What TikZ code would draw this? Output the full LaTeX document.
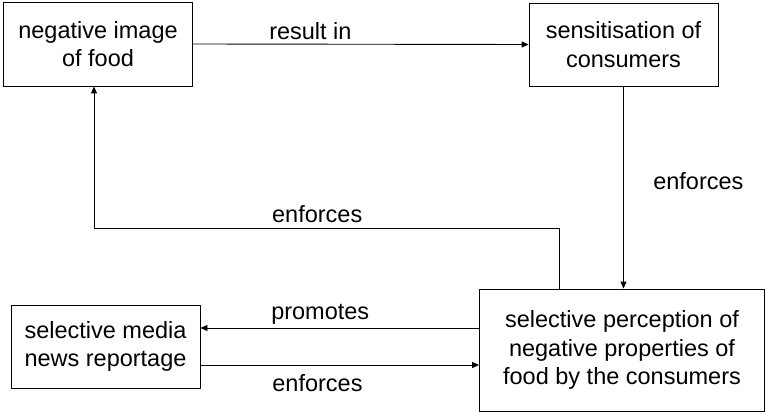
\documentclass[tikz,border=0pt]{standalone}
\usepackage{fontspec}
\setmainfont{Liberation Sans}
\usetikzlibrary{positioning, arrows.meta}

\tikzset{
  box/.style={draw, line width=0.9pt, align=center, inner sep=0pt, font=\fontsize{23.5}{28.5}\selectfont},
  link/.style={line width=0.9pt, -{Triangle[length=7pt,width=6pt]}},
  lbl/.style={font=\fontsize{23.5}{28.5}\selectfont}
}

\begin{document}
\begin{tikzpicture}[x=1pt, y=-1pt]

\useasboundingbox (0,0) rectangle (766,412);

\node[box, minimum width=189pt, minimum height=84pt] (neg) at (98,44) {negative image\\of food};
\node[box, minimum width=189pt, minimum height=83pt] (sens) at (623.5,44.5) {sensitisation of\\consumers};
\node[box, minimum width=285pt, minimum height=122pt] (percep) at (622,350) {selective perception of\\negative properties of\\food by the consumers};
\node[box, minimum width=189pt, minimum height=83pt] (media) at (105.5,346.5) {selective media\\news reportage};

\coordinate (bk1) at (559,228);
\coordinate (bk2) at (94,228);

\draw[link] (neg.east) -- node[lbl, above, pos=0.35, inner sep=4pt] {result in} (sens.west);
\draw[link] (sens.south) -- node[lbl, right, pos=0.47, xshift=26pt] {enforces} (sens.south |- percep.north);
\draw[link] (bk1 |- percep.north) -- (bk1) -- node[lbl, above, pos=0.52, inner sep=5pt] {enforces} (bk2) -- (bk2 |- neg.south);
\draw[link] ([yshift=18.5pt]media.east -| percep.west) -- node[lbl, above, pos=0.57, inner sep=3pt] {promotes} ([yshift=18.5pt]media.east);
\draw[link] ([yshift=-18.5pt]media.east) -- node[lbl, below, pos=0.42, inner sep=9pt] {enforces} ([yshift=-18.5pt]media.east -| percep.west);

\end{tikzpicture}
\end{document}
